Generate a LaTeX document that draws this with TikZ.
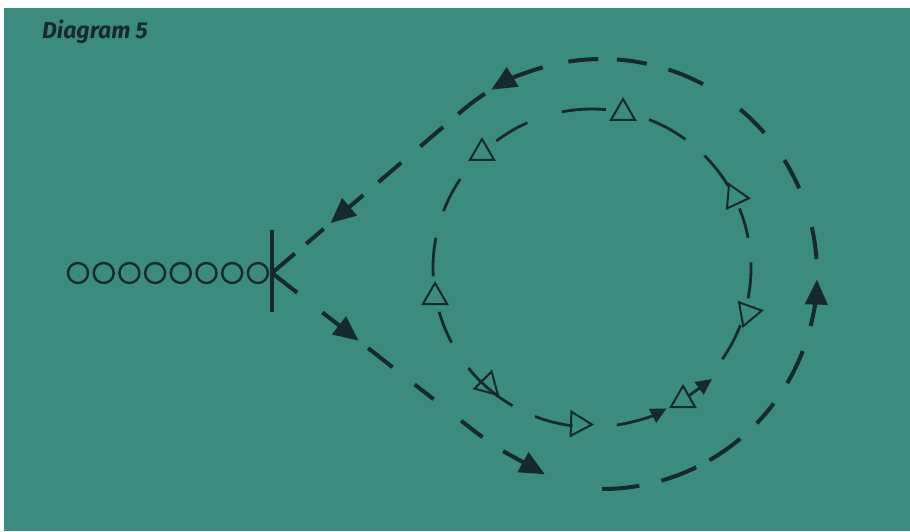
\documentclass[tikz,border=0pt]{standalone}
\usepackage{fontspec}
\setmainfont{Fira Sans}
\usetikzlibrary{arrows.meta,calc,shapes.geometric}
\definecolor{bg}{RGB}{59,140,127}
\definecolor{ink}{RGB}{22,42,46}
\begin{document}
\begin{tikzpicture}[x=1pt,y=1pt,
  outline/.style={draw=ink,line width=4pt},
  outarrow/.style={draw=ink,line width=4pt,-{Triangle[length=25pt,width=22pt]}},
  innerdash/.style={draw=ink,line width=2.8pt},
  innerarrow/.style={draw=ink,line width=2.8pt,-{Triangle[length=16pt,width=15pt]}},
  player/.style={draw=ink,line width=2pt,regular polygon,regular polygon sides=3,minimum size=28pt,inner sep=0pt},
  mate/.style={draw=ink,line width=2.4pt,circle,minimum size=20pt,inner sep=0pt},
  tline/.style={draw=ink,line width=3.5pt}
]
\fill[white] (0,0) rectangle (910,531);
\fill[bg] (4,0) rectangle (910,523);
\useasboundingbox (0,0) rectangle (910,531);

% title
\node[anchor=base west,text=ink,inner sep=0pt,font=\fontsize{23}{26}\selectfont\bfseries\itshape] (title) at (42,492) {Diagram 5};

% line of players
\foreach \i in {0,...,7}
  \node[mate] (m\i) at ({78+25.7*\i},258) {};

% coach mark
\coordinate (K) at (272,258);
\coordinate (Ktop) at (272,301);
\coordinate (Kbot) at (272,219);
\draw[tline] (Ktop) -- (Kbot);

% outer loop geometry
\coordinate (OC) at (602,257);
\coordinate (Tup) at ($(OC)+(130.7:215)$);
\coordinate (P) at (469,104.1);
\coordinate (C1) at (500.5,79.5);
\coordinate (C2) at (557,42);
\coordinate (B) at (602,42);

% upper straight part (from K)
\foreach \a/\b in {0/30, 45/68, 140/170, 195/225}
  \draw[outline] ($(K)!\a pt!(Tup)$) -- ($(K)!\b pt!(Tup)$);
\draw[outarrow] ($(K)!120pt!(Tup)$) -- ($(K)!77pt!(Tup)$);
\draw[outline] ($(K)!245pt!(Tup)$) -- (Tup) arc[start angle=130.7, end angle=123, radius=215pt];

% arc part
\draw[outarrow] ($(OC)+(106:215)$) arc[start angle=106, end angle=121, radius=215pt];
\foreach \a/\b in {91/99, 78/86, 62/72, 41/50, 23.5/32, 4/12.6, -30.5/-21, -44/-37, -60/-50, -74/-64, -90/-80}
  \draw[outline] ($(OC)+(\a:215)$) arc[start angle=\a, end angle=\b, radius=215pt];
\draw[outarrow] ($(OC)+(-14:215)$) arc[start angle=-14, end angle=-1.5, radius=215pt];

% lower straight part (from K)
\foreach \a/\b in {0/32, 122/153, 181/205, 240/250}
  \draw[outline] ($(K)!\a pt!(P)$) -- ($(K)!\b pt!(P)$);
\draw[outarrow] ($(K)!64pt!(P)$) -- ($(K)!110pt!(P)$);

% lower bend
\path (P) .. controls (C1) and (C2) .. coordinate[pos=0.3] (a5s) coordinate[pos=0.6] (a5e) (B);
\draw[outline,dash pattern=on 17pt off 600pt] (P) .. controls (C1) and (C2) .. (B);
\draw[outarrow] (a5s) -- (a5e);

% inner circle
\coordinate (IC) at (592,263);
\foreach \a/\b in {85/101, 54/69, 31/45, 11/22, -11/2, -35/-21, 219/240, 196/208, 169/183, 146/159, 114/127, 249/263}
  \draw[innerdash] ($(IC)+(\a:159)$) arc[start angle=\a, end angle=\b, radius=159pt];
\draw[innerarrow] ($(IC)+(-81:159)$) arc[start angle=-81, end angle=-62, radius=159pt];

% players on the circle
\node[player] (t1) at (623,418) {};
\node[player] (t2) at (482,378) {};
\node[player] (t3) at (435,234) {};
\node[player,rotate=-15] (t4) at (488,146) {};
\node[player,rotate=-92] (t5) at (578,107) {};
\node[player] (t6) at (683,131) {};
\node[player,rotate=-80] (t7) at (748,218) {};
\node[player,rotate=-95] (t8) at (735,334) {};

\coordinate (tip6) at (712,152);
\draw[innerarrow] (t6.36) -- (tip6);
\end{tikzpicture}
\end{document}
